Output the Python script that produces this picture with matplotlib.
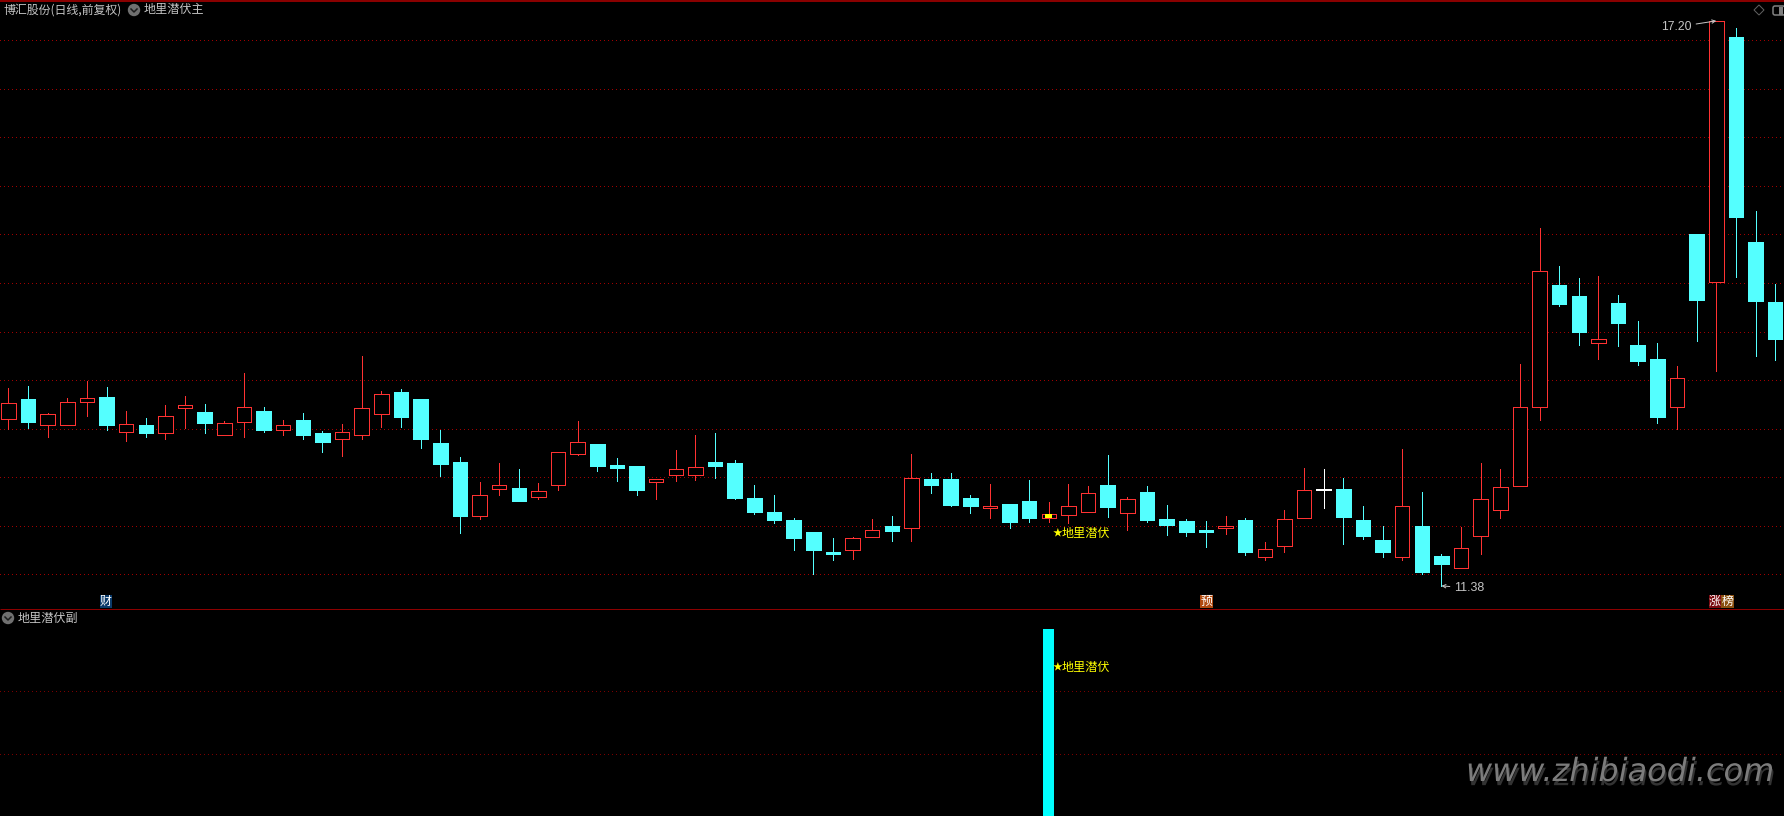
import matplotlib.pyplot as plt
import matplotlib.patches as mpatches
import matplotlib.patheffects as pe
import numpy as np

plt.rcParams["font.family"] = ["Noto Sans CJK SC", "DejaVu Sans"]

# daily candles, prices
highs = [13.42, 13.44, 13.16, 13.32, 13.49, 13.43, 13.18, 13.11, 13.24, 13.34,
         13.25, 13.08, 13.57, 13.22, 13.09, 13.16, 12.98, 13.05, 13.75, 13.39,
         13.41, 13.30, 12.99, 12.71, 12.45, 12.65, 12.58, 12.44, 12.76, 13.08,
         12.84, 12.70, 12.62, 12.48, 12.78, 12.93, 12.96, 12.68, 12.42, 12.32,
         12.08, 11.93, 11.87, 11.88, 12.07, 12.10, 12.74, 12.54, 12.54, 12.32,
         12.43, 12.22, 12.47, 12.24, 12.43, 12.41, 12.73, 12.30, 12.41, 12.21,
         12.07, 12.05, 12.10, 12.08, 11.83, 12.16, 12.59, 12.58, 12.49, 12.20,
         12.00, 12.79, 12.35, 11.71, 11.99, 12.65, 12.58, 13.67, 15.07, 14.68,
         14.55, 14.57, 14.38, 14.11, 13.88, 13.65, 15.00, 17.20, 17.13, 15.24,
         14.49]
tops = [13.26, 13.30, 13.15, 13.27, 13.32, 13.33, 13.05, 13.04, 13.13, 13.24,
        13.17, 13.06, 13.22, 13.18, 13.04, 13.09, 12.96, 12.97, 13.21, 13.36,
        13.38, 13.30, 12.85, 12.66, 12.32, 12.42, 12.39, 12.36, 12.76, 12.86,
        12.84, 12.63, 12.62, 12.48, 12.58, 12.60, 12.66, 12.65, 12.29, 12.14,
        12.06, 11.93, 11.73, 11.87, 11.96, 12.00, 12.49, 12.48, 12.48, 12.29,
        12.20, 12.22, 12.25, 12.12, 12.20, 12.34, 12.42, 12.28, 12.35, 12.07,
        12.05, 11.96, 12.00, 12.06, 11.76, 12.07, 12.37, 12.38, 12.38, 12.06,
        11.85, 12.20, 12.00, 11.69, 11.77, 12.27, 12.40, 13.22, 14.62, 14.48,
        14.37, 13.92, 14.29, 13.86, 13.72, 13.52, 15.00, 17.20, 17.03, 14.92,
        14.30]
bottoms = [13.10, 13.07, 13.04, 13.04, 13.27, 13.04, 12.97, 12.96, 12.95, 13.21,
           13.06, 12.93, 13.07, 12.99, 12.99, 12.93, 12.86, 12.89, 12.93, 13.15,
           13.12, 12.89, 12.64, 12.10, 12.10, 12.38, 12.25, 12.30, 12.42, 12.74,
           12.62, 12.59, 12.37, 12.45, 12.52, 12.52, 12.61, 12.29, 12.14, 12.06,
           11.87, 11.75, 11.71, 11.75, 11.88, 11.95, 11.98, 12.42, 12.21, 12.20,
           12.18, 12.04, 12.08, 12.08, 12.11, 12.14, 12.19, 12.13, 12.06, 12.01,
           11.94, 11.94, 11.98, 11.73, 11.68, 11.79, 12.08, 12.37, 12.09, 11.89,
           11.73, 11.68, 11.52, 11.61, 11.56, 11.89, 12.16, 12.41, 13.22, 14.28,
           14.00, 13.88, 14.09, 13.70, 13.12, 13.22, 14.33, 14.51, 15.18, 14.31,
           13.92]
lows = [13.00, 13.01, 12.91, 13.04, 13.13, 12.99, 12.87, 12.91, 12.89, 13.01,
        12.96, 12.93, 12.91, 12.97, 12.93, 12.89, 12.76, 12.72, 12.89, 13.02,
        13.02, 12.80, 12.51, 11.92, 12.07, 12.32, 12.25, 12.27, 12.37, 12.73,
        12.56, 12.46, 12.32, 12.27, 12.46, 12.47, 12.49, 12.28, 12.12, 12.03,
        11.75, 11.50, 11.65, 11.66, 11.88, 11.84, 11.84, 12.34, 12.20, 12.13,
        12.08, 11.98, 12.04, 12.04, 12.03, 12.14, 12.09, 11.96, 12.04, 11.90,
        11.89, 11.78, 11.91, 11.70, 11.65, 11.73, 12.08, 12.18, 11.81, 11.86,
        11.68, 11.65, 11.50, 11.38, 11.56, 11.71, 12.08, 12.41, 13.09, 14.26,
        13.86, 13.72, 13.85, 13.66, 13.06, 13.00, 13.90, 13.59, 14.56, 13.75,
        13.71]
kinds = ("RCRRRCRCRR" "CRRCRCCRRR" "CCCCRRCRRR" "CCCRRRCCCC" "CCCRRCRCCC"
         "RCCRRRCRCC" "CCRCRRRWCC" "CRCCRRRRRC" "CRCCCRCRCC" "C")

signal_day = [53]
signal_low = [12.08]
signal_high = [12.12]
sub_value = [1]
price_grid = [17.0, 16.5, 16.0, 15.5, 15.0, 14.5, 14.0, 13.5, 13.0, 12.5, 12.0, 11.5]
sub_grid = [2 / 3, 1 / 3]

RED = "#ff3232"
CYAN = "#54ffff"
GREY = "#c4c4c4"
GRID = "#a00000"
LW = 0.72

fig = plt.figure(figsize=(17.84, 8.16), dpi=100, facecolor="black")
ax = fig.add_axes([0, 207 / 816, 1, 609 / 816], facecolor="black")
sub = fig.add_axes([0, 0, 1, 206 / 816], facecolor="black")
# overlay in pixels for labels and little icons
ov = fig.add_axes([0, 0, 1, 1], facecolor="none", zorder=5)
ov.set_xlim(0, 1784)
ov.set_ylim(816, 0)

x_lim = (-0.428, 90.45)
for a in (ax, sub, ov):
    a.axis("off")
ax.set_xlim(x_lim)
ax.set_ylim(11.142, 17.415)
sub.set_xlim(x_lim)
sub.set_ylim(0, 206 / 187)

days = np.arange(len(highs))
colour_map = {"R": RED, "C": CYAN, "W": "#ffffff"}
colours = [colour_map[k] for k in kinds]
faces = ["black" if k == "R" else colour_map[k] for k in kinds]

for g in price_grid:
    ax.axhline(g, color=GRID, lw=LW, ls=(0, (1, 3)), zorder=1, antialiased=False)
for g in sub_grid:
    sub.axhline(g, color="#7a0000", lw=LW, ls=(0, (1, 3)), zorder=1, antialiased=False)

ax.vlines(days, lows, highs, colors=colours, lw=LW, zorder=2, antialiased=False)
body = np.array(tops) - np.array(bottoms)
ax.bar(days, body, bottom=bottoms, width=0.74, color=faces, edgecolor=colours,
       linewidth=LW, zorder=3, antialiased=False)
ax.bar(signal_day, np.array(signal_high) - np.array(signal_low), bottom=signal_low,
       width=0.36, color="#ffff00", zorder=4, antialiased=False)

sub.bar(signal_day, sub_value, width=0.56, color="#00ffff", zorder=3, antialiased=False)

# high and low price marks
arrow = dict(arrowstyle="->", color=GREY, lw=LW, shrinkA=1, shrinkB=0, mutation_scale=6)
ax.annotate("17.20", xy=(87, 17.20), xytext=(1692, 27), textcoords=ov.transData,
            color=GREY, fontsize=8.8, family="Liberation Sans", ha="right", va="center",
            arrowprops=arrow, annotation_clip=False)
ax.annotate("11.38", xy=(73, 11.38), xytext=(1454, 588), textcoords=ov.transData,
            color=GREY, fontsize=9, family="Liberation Sans", ha="left", va="center",
            arrowprops=arrow, annotation_clip=False)


def label(x, y, s, color=GREY, size=8.7):
    return ov.text(x, y, s, color=color, fontsize=size, ha="left", va="center")


def chevron_icon(x, y):
    ov.add_patch(mpatches.Circle((x, y), 6.2, color="#707070", lw=0))
    ov.plot([x - 3, x, x + 3], [y - 1, y + 2, y - 1], color="#1c1c1c", lw=1.1)


def tag(x0, x1, s, bg):
    ov.add_patch(mpatches.Rectangle((x0, 595), x1 - x0, 13, color=bg, lw=0))
    ov.text((x0 + x1) / 2, 601, s, color="white", fontsize=8.6, ha="center", va="center")


def signal_label(y):
    ov.text(1057.5, y, "★", color="#ffff00", fontsize=7, ha="center", va="center")
    ov.text(1062, y, "地里潜伏", color="#ffff00", fontsize=8.7, ha="left", va="center")


# header texts
label(3, 10, "博汇股份(日线,前复权)", size=8.6)
chevron_icon(134, 10)
label(144, 10, "地里潜伏主")
chevron_icon(8, 618)
label(18, 618, "地里潜伏副")

tag(99.5, 111.5, "财", "#0a3a6a")
tag(1200, 1213, "预", "#b04a10")
tag(1709, 1721, "涨", "#7a0a10")
tag(1721, 1734, "榜", "#8a5010")

signal_label(533)
signal_label(667)

# panel borders
ov.plot([0, 1784], [0.7, 0.7], color="#b40000", lw=1.1, solid_capstyle="butt")
ov.plot([0, 1784], [609, 609], color="#8c0000", lw=LW, solid_capstyle="butt")

# top right icons
ov.add_patch(mpatches.Polygon([(1759, 5), (1764, 10), (1759, 15), (1754, 10)],
                              fill=False, ec="#606060", lw=LW))
ov.add_patch(mpatches.FancyBboxPatch((1773, 6), 12, 9, boxstyle="round,pad=0,rounding_size=2",
                                     fill=False, ec="#808080", lw=1.1))
ov.add_patch(mpatches.Rectangle((1779, 7), 4, 8, color="#808080", lw=0))

# watermark with a soft drop shadow
ov.text(1466, 781, "www.zhibiaodi.com", color="#7c7c7c", fontsize=23, style="oblique",
        family="DejaVu Sans", ha="left", va="baseline",
        path_effects=[pe.SimplePatchShadow(offset=(1, -3), shadow_rgbFace="#333333", alpha=1),
                      pe.Normal()])

fig.savefig("out.png", dpi=100, facecolor="black")
plt.close(fig)
